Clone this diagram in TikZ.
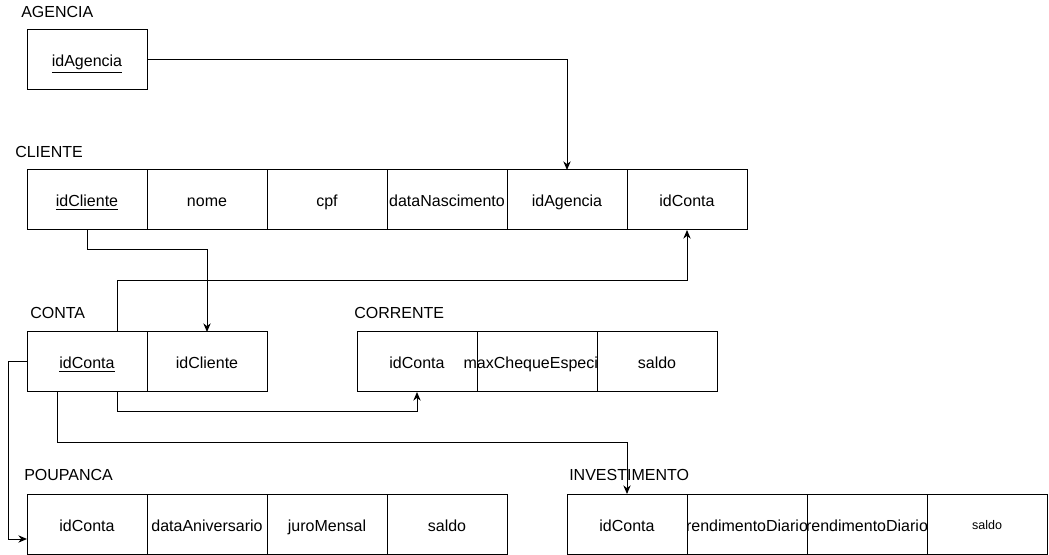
\documentclass[tikz,border=0pt]{standalone}
\usepackage{fontspec}
\setmainfont{Liberation Sans}
\usetikzlibrary{arrows.meta}
\begin{document}
\begin{tikzpicture}[x=0.75pt,y=-0.75pt,
  cell/.style={draw,rectangle,line width=0.75pt,inner sep=0pt,outer sep=0pt,
    minimum width=90pt,minimum height=45pt,text height=13pt,text depth=2.5pt,
    font=\fontsize{12}{14}\selectfont},
  txt/.style={inner sep=0pt,text height=13pt,text depth=2.5pt,font=\fontsize{12}{14}\selectfont},
  small/.style={inner sep=0pt,text height=10pt,text depth=2.5pt,font=\fontsize{9.4}{11}\selectfont},
  title/.style={anchor=west,inner sep=0pt,font=\fontsize{12}{14}\selectfont},
  link/.style={line width=0.75pt,-{Stealth[length=6.5pt,width=5.5pt]}}]
\useasboundingbox (0,0) rectangle (1049,555);

% AGENCIA
\node[title] (tAg) at (21,12) {AGENCIA};
\node[cell] (ag1) at (87,60) {\underline{idAgencia}};

% CLIENTE
\node[title] (tCl) at (15,152) {CLIENTE};
\node[cell] (cl1) at (87,200) {\underline{idCliente}};
\node[cell] (cl2) at (207,200) {nome};
\node[cell] (cl3) at (327,200) {cpf};
\node[cell] (cl4) at (447,200) {dataNascimento};
\node[cell] (cl5) at (567,200) {idAgencia};
\node[cell] (cl6) at (687,200) {idConta};

% CONTA
\node[title] (tCo) at (30,313) {CONTA};
\node[cell] (co1) at (87,362) {\underline{idConta}};
\node[cell] (co2) at (207,362) {idCliente};

% CORRENTE
\node[title] (tCr) at (354,313) {CORRENTE};
\node[cell] (cr1) at (417,362) {idConta};
\node[cell] (cr2) at (537,362) {};
\node[cell] (cr3) at (657,362) {saldo};
\begin{scope}
  \clip (0,332) rectangle (597,392);
  \node[txt] (cr2t) at (537,362) {maxChequeEspecial};
\end{scope}

% POUPANCA
\node[title] (tPo) at (24,475) {POUPANCA};
\node[cell] (po1) at (87,524) {idConta};
\node[cell] (po2) at (207,524) {dataAniversario};
\node[cell] (po3) at (327,524) {juroMensal};
\node[cell] (po4) at (447,524) {saldo};

% INVESTIMENTO
\node[title] (tIn) at (569,475) {INVESTIMENTO};
\node[cell] (in1) at (627,524) {idConta};
\node[cell] (in2) at (747,524) {};
\node[cell] (in3) at (867,524) {};
\node[cell] (in4) at (987,524) {};
\node[small] (in4t) at (987,524) {saldo};
\begin{scope}
  \clip (0,494) rectangle (806,554);
  \node[txt] (in2t) at (747,524) {rendimentoDiario};
\end{scope}
\begin{scope}
  \clip (0,494) rectangle (926,554);
  \node[txt] (in3t) at (867,524) {rendimentoDiario};
\end{scope}

% foreign keys
\draw[link] (ag1.east) -| (cl5.north);
\draw[link] (cl1.south) -- ++(0,20) -| (co2.north);
\draw[link] ([xshift=22.5pt]co1.north) -- ++(0,-51) -| (cl6.south);
\draw[link] ([xshift=22.5pt]co1.south) -- ++(0,20) -| (cr1.south);
\draw[link] ([xshift=-22.5pt]co1.south) -- ++(0,51) -| (in1.north);
\draw[link] (co1.west) -- ++(-19,0) |- ([yshift=-11.25pt]po1.west);
\end{tikzpicture}
\end{document}
